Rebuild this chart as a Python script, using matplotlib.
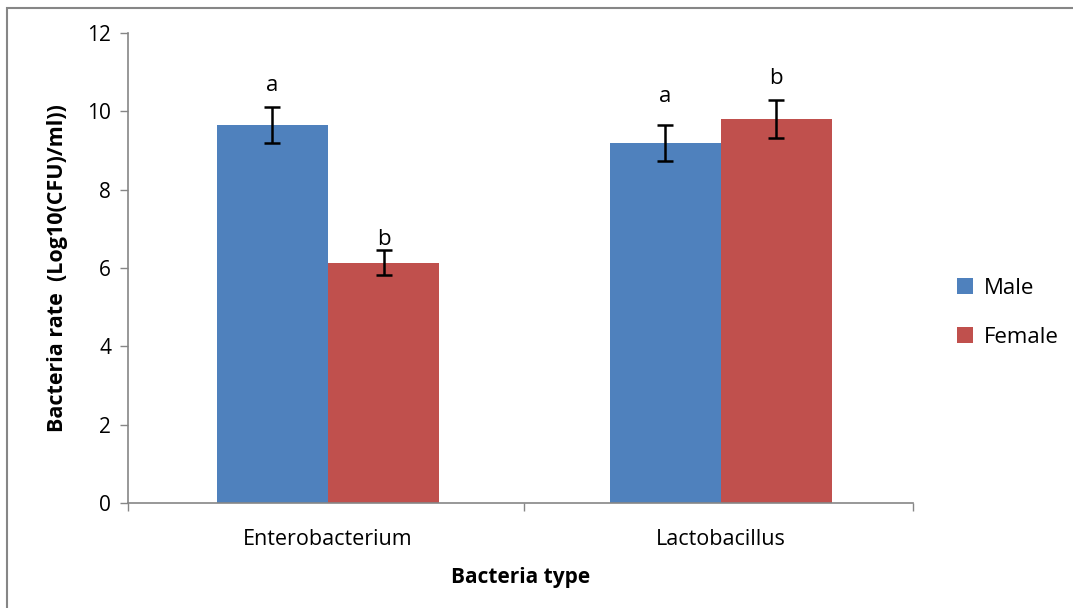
import matplotlib
matplotlib.use("Agg")
import matplotlib.pyplot as plt
from matplotlib.patches import Rectangle
import numpy as np

categories = ["Enterobacterium", "Lactobacillus"]
male = [9.65, 9.2]
female = [6.13, 9.8]
male_err = [0.47, 0.46]
female_err = [0.32, 0.49]
male_letters = ["a", "a"]
female_letters = ["b", "b"]

plt.rcParams['font.family'] = ['Open Sans', 'DejaVu Sans']

fig = plt.figure(figsize=(10.73, 6.08), dpi=100)
ax = fig.add_axes([0.119, 0.1727, 0.732, 0.773])

x = np.arange(len(categories))
w = 0.283
blue = "#4F81BD"
red = "#C0504D"
ax.bar(x - w / 2, male, w, color=blue, label="Male", zorder=2)
ax.bar(x + w / 2, female, w, color=red, label="Female", zorder=2)
ax.errorbar(x - w / 2, male, yerr=male_err, fmt="none", ecolor="black",
            elinewidth=1.8, capsize=6, capthick=1.8, zorder=3)
ax.errorbar(x + w / 2, female, yerr=female_err, fmt="none", ecolor="black",
            elinewidth=1.8, capsize=6, capthick=1.8, zorder=3)

# gap between error cap and letter (the first "b" sits almost on its cap)
male_gap = [0.28, 0.45]
female_gap = [0.02, 0.28]
for i in range(len(categories)):
    ax.text(x[i] - w / 2, male[i] + male_err[i] + male_gap[i], male_letters[i],
            ha="center", va="bottom", fontsize=16, zorder=1)
    ax.text(x[i] + w / 2, female[i] + female_err[i] + female_gap[i], female_letters[i],
            ha="center", va="bottom", fontsize=16, zorder=1)

ax.set_xlim(-0.51, 1.49)
ax.set_ylim(0, 12)
ax.set_yticks(range(0, 13, 2))
ax.set_xticks([-0.51, 0.5, 1.49], minor=False)
ax.set_xticklabels([])
ax.set_xticks(x, minor=True)
ax.set_xticklabels(categories, minor=True)
ax.tick_params(axis="x", which="minor", length=0, labelsize=15.5, pad=19)
ax.tick_params(axis="x", which="major", length=6, color="#868686", width=1)
ax.tick_params(axis="y", length=6, color="#868686", width=1, labelsize=15, pad=6)

for s in ["top", "right"]:
    ax.spines[s].set_visible(False)
for s in ["left", "bottom"]:
    ax.spines[s].set_color("#868686")
    ax.spines[s].set_linewidth(1.2)

ax.set_xlabel("Bacteria type", fontsize=15, fontweight="bold", labelpad=12)
ax.set_ylabel("Bacteria rate  (Log10(CFU)/ml))", fontsize=15.5, fontweight="bold", labelpad=14)

ax.legend(loc="center left", bbox_to_anchor=(1.056, 0.405), frameon=False,
          fontsize=16, handlelength=0.7, handleheight=0.7, labelspacing=1.25,
          handletextpad=0.5, borderpad=0, borderaxespad=0)

fig.patches.append(Rectangle((0.0065, -0.05), 1.1, 1.037, transform=fig.transFigure,
                             fill=False, edgecolor="#868686", linewidth=1.5))

fig.savefig("out.png", dpi=100)
